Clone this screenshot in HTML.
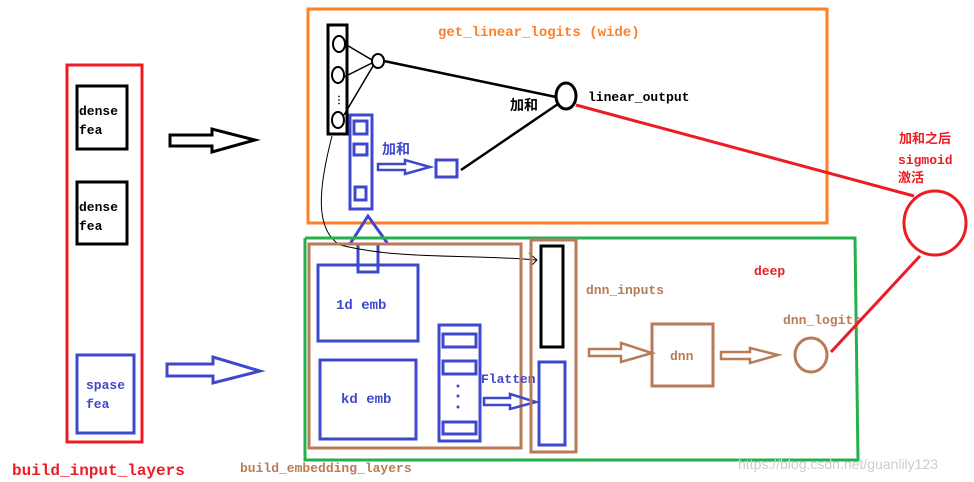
<!DOCTYPE html>
<html><head><meta charset="utf-8"><style>
html,body{margin:0;padding:0;background:#fff;}
svg{display:block;}
text{font-family:"Liberation Mono","Noto Sans CJK SC",monospace;font-weight:bold;}
</style></head><body>
<svg width="974" height="482" viewBox="0 0 974 482" xmlns="http://www.w3.org/2000/svg">
<!-- input layers -->
<rect x="67" y="65" width="75" height="377" fill="none" stroke="#ed1c24" stroke-width="3"/>
<rect x="77" y="86" width="50" height="63" fill="none" stroke="#000" stroke-width="3"/>
<text x="79" y="115" font-size="13">dense</text><text x="79" y="134" font-size="13">fea</text>
<rect x="77" y="182" width="50" height="62" fill="none" stroke="#000" stroke-width="3"/>
<text x="79" y="211" font-size="13">dense</text><text x="79" y="230" font-size="13">fea</text>
<rect x="77" y="355" width="57" height="78" fill="none" stroke="#3f48cc" stroke-width="3"/>
<text x="86" y="389" font-size="13" fill="#3f48cc">spase</text><text x="86" y="408" font-size="13" fill="#3f48cc">fea</text>
<text x="12" y="475" font-size="16" fill="#ed1c24">build_input_layers</text>
<!-- hollow arrows -->
<polygon points="170,135 212,135 212,129 255,140 212,152 212,146 170,146" fill="none" stroke="#000" stroke-width="3"/>
<polygon points="167,364 213,364 213,357 260,371 213,383 213,376 167,376" fill="none" stroke="#3f48cc" stroke-width="3"/>
<!-- wide -->
<rect x="308" y="9" width="519" height="214" fill="none" stroke="#ff7f27" stroke-width="3"/>
<text x="438" y="36" font-size="14" fill="#ff7f27">get_linear_logits (wide)</text>
<rect x="328" y="25" width="19" height="109" fill="none" stroke="#000" stroke-width="3"/>
<ellipse cx="339" cy="44" rx="6" ry="8" fill="none" stroke="#000" stroke-width="2"/>
<ellipse cx="338" cy="75" rx="6" ry="8" fill="none" stroke="#000" stroke-width="2"/>
<ellipse cx="338" cy="120" rx="6" ry="8" fill="none" stroke="#000" stroke-width="2"/>
<text x="334" y="103" font-size="10">⋮</text>
<ellipse cx="378" cy="61" rx="6" ry="7" fill="none" stroke="#000" stroke-width="2"/>
<line x1="345" y1="44" x2="372" y2="60" stroke="#000" stroke-width="1.5"/>
<line x1="344" y1="77" x2="372" y2="63" stroke="#000" stroke-width="1.5"/>
<line x1="344" y1="115" x2="373" y2="66" stroke="#000" stroke-width="1.5"/>
<line x1="384" y1="61" x2="556" y2="97" stroke="#000" stroke-width="2.5"/>
<ellipse cx="566" cy="96" rx="10" ry="13" fill="none" stroke="#000" stroke-width="3"/>
<text x="588" y="101" font-size="13">linear_output</text>
<text x="510" y="110" font-size="14">加和</text>
<line x1="461" y1="170" x2="558" y2="104" stroke="#000" stroke-width="2.5"/>
<rect x="350" y="115" width="22" height="94" fill="none" stroke="#3f48cc" stroke-width="3"/>
<rect x="354" y="121" width="13" height="13" fill="none" stroke="#3f48cc" stroke-width="3"/>
<rect x="354" y="144" width="13" height="11" fill="none" stroke="#3f48cc" stroke-width="3"/>
<rect x="355" y="187" width="11" height="13" fill="none" stroke="#3f48cc" stroke-width="3"/>
<text x="382" y="154" font-size="14" fill="#3f48cc">加和</text>
<polygon points="378,164 405,164 405,160 430,167 405,174 405,170 378,170" fill="none" stroke="#3f48cc" stroke-width="2.5"/>
<rect x="436" y="160" width="21" height="17" fill="none" stroke="#3f48cc" stroke-width="3"/>
<!-- blue up arrow -->
<polygon points="358,272 378,272 378,244 388,244 368,216 350,244 358,244" fill="none" stroke="#3f48cc" stroke-width="3"/>
<!-- thin curve -->
<path d="M332,136 C318,190 315,230 340,245 C400,260 470,254 536,260" fill="none" stroke="#000" stroke-width="1"/>
<polyline points="529,253 537,260 530,267" fill="none" stroke="#000" stroke-width="1"/>
<!-- deep -->
<polyline points="305,238 855,238 858,460 305,460 305,238" fill="none" stroke="#22b14c" stroke-width="3"/>
<text x="754" y="275" font-size="13" fill="#ed1c24">deep</text>
<rect x="309" y="244" width="212" height="204" fill="none" stroke="#b97a57" stroke-width="3"/>
<rect x="318" y="265" width="100" height="76" fill="none" stroke="#3f48cc" stroke-width="3"/>
<text x="336" y="309" font-size="14" fill="#3f48cc">1d emb</text>
<rect x="320" y="360" width="96" height="79" fill="none" stroke="#3f48cc" stroke-width="3"/>
<text x="341" y="403" font-size="14" fill="#3f48cc">kd emb</text>
<rect x="439" y="325" width="41" height="116" fill="none" stroke="#3f48cc" stroke-width="3"/>
<rect x="443" y="334" width="33" height="13" fill="none" stroke="#3f48cc" stroke-width="3"/>
<rect x="443" y="361" width="33" height="13" fill="none" stroke="#3f48cc" stroke-width="3"/>
<rect x="443" y="422" width="33" height="12" fill="none" stroke="#3f48cc" stroke-width="3"/>
<circle cx="458" cy="386" r="1.5" fill="#3f48cc"/><circle cx="458" cy="396" r="1.5" fill="#3f48cc"/><circle cx="458" cy="407" r="1.5" fill="#3f48cc"/>
<text x="481" y="383" font-size="13" fill="#3f48cc">Flatten</text>
<polygon points="484,398 510,398 510,394 536,402 510,409 510,405 484,405" fill="none" stroke="#3f48cc" stroke-width="2.5"/>
<text x="240" y="472" font-size="13" fill="#b97a57">build_embedding_layers</text>
<rect x="531" y="240" width="45" height="212" fill="none" stroke="#b97a57" stroke-width="3"/>
<rect x="541" y="246" width="22" height="101" fill="none" stroke="#000" stroke-width="3"/>
<rect x="539" y="362" width="26" height="83" fill="none" stroke="#3f48cc" stroke-width="3"/>
<text x="586" y="294" font-size="13" fill="#b97a57">dnn_inputs</text>
<polygon points="589,349 621,349 621,343 652,353 621,362 621,356 589,356" fill="none" stroke="#b97a57" stroke-width="2.5"/>
<rect x="652" y="324" width="61" height="62" fill="none" stroke="#b97a57" stroke-width="3"/>
<text x="670" y="360" font-size="13" fill="#b97a57">dnn</text>
<polygon points="721,352 750,352 750,348 778,355 750,363 750,359 721,359" fill="none" stroke="#b97a57" stroke-width="2.5"/>
<text x="783" y="324" font-size="13" fill="#b97a57">dnn_logits</text>
<ellipse cx="811" cy="355" rx="16" ry="17" fill="none" stroke="#b97a57" stroke-width="3"/>
<!-- red -->
<line x1="576" y1="105" x2="914" y2="196" stroke="#ed1c24" stroke-width="3"/>
<line x1="831" y1="352" x2="920" y2="256" stroke="#ed1c24" stroke-width="3"/>
<ellipse cx="935" cy="223" rx="31" ry="32" fill="none" stroke="#ed1c24" stroke-width="3"/>
<text x="899" y="143" font-size="13" fill="#ed1c24">加和之后</text>
<text x="898" y="164" font-size="13" fill="#ed1c24">sigmoid</text>
<text x="898" y="182" font-size="13" fill="#ed1c24">激活</text>
<text x="738" y="469" font-size="14" fill="#cccccc" style="font-family:'Liberation Sans',sans-serif;font-weight:normal">https://blog.csdn.net/guanlily123</text>
</svg>
</body></html>
